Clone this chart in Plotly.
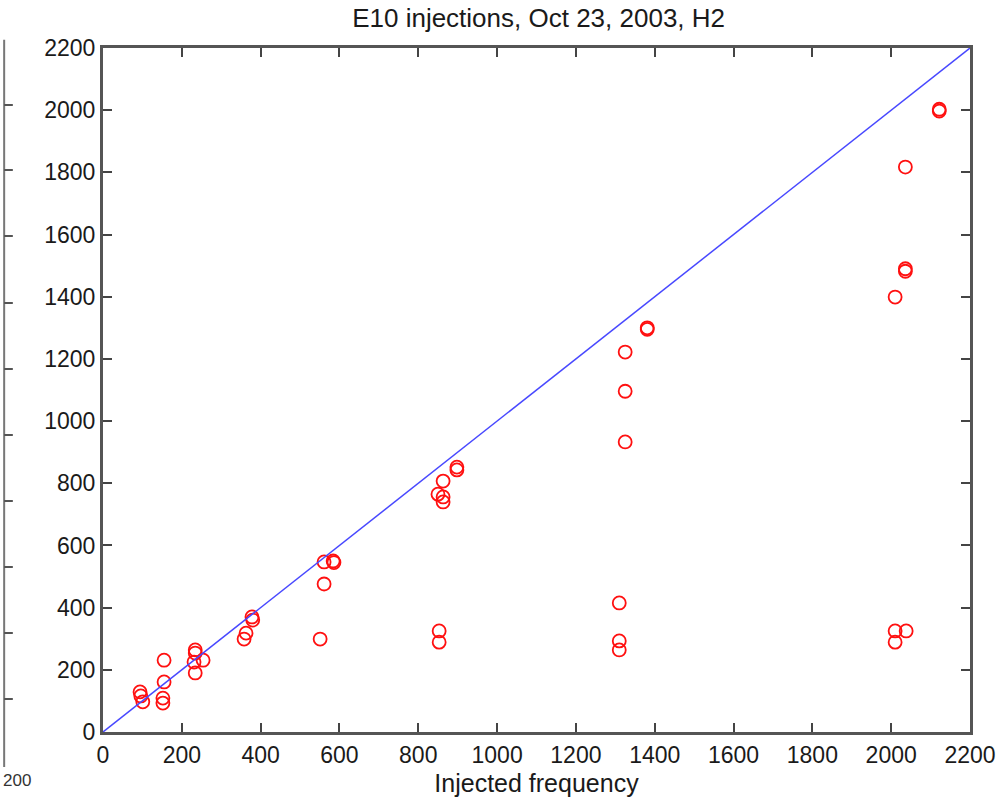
import plotly.graph_objects as go

# Data
inj_freq = [94, 96, 101,
            155, 155, 152, 152,
            234, 234, 254, 231, 234,
            378, 380, 363, 358,
            561, 584, 586, 561, 551,
            898, 898, 863, 850, 863, 863, 853, 853,
            1310, 1310, 1310,
            1325, 1325, 1325,
            1381, 1381,
            2010, 2036, 2036, 2036, 2122, 2122,
            2010, 2038, 2010]
meas_freq = [129, 116, 97,
             231, 161, 109, 93,
             264, 254, 231, 225, 190,
             370, 360, 318, 299,
             547, 550, 545, 476, 299,
             852, 843, 807, 765, 756, 740, 325, 289,
             415, 293, 264,
             1222, 1096, 933,
             1300, 1295,
             1399, 1490, 1482, 1817, 2003, 1997,
             325, 325, 289]
diag = [0, 2200]
tick_vals = list(range(0, 2201, 200))
title_text = "E10 injections, Oct 23, 2003, H2"
xlabel = "Injected frequency"

fig = go.Figure()
fig.add_trace(go.Scatter(x=inj_freq, y=meas_freq, mode="markers",
                         marker=dict(symbol="circle-open", size=13,
                                     color="#ff1010", line=dict(width=1.8, color="#ff1010")),
                         showlegend=False))
fig.add_trace(go.Scatter(x=diag, y=diag, mode="lines",
                         line=dict(color="#4848ff", width=1.5), showlegend=False))

axis_common = dict(range=[0, 2200], tickvals=tick_vals, ticks="inside", ticklen=9,
                   tickwidth=2, tickcolor="#444", showline=True, linewidth=3,
                   linecolor="#555", mirror="ticks", showgrid=False, zeroline=False,
                   automargin=False,
                   tickfont=dict(family="Liberation Sans, Arial", size=23, color="#1a1a1a"))

fig.update_xaxes(**axis_common, title=dict(text=xlabel, standoff=8,
                 font=dict(family="Liberation Sans, Arial", size=25, color="#1a1a1a")))
fig.update_yaxes(**axis_common)

# fragment of neighbouring axes at the left edge
shapes = [dict(type="line", xref="paper", yref="paper", x0=-0.114, x1=-0.114,
               y0=1.012, y1=-0.051, line=dict(color="#777", width=2))]
for py in [105, 170, 236, 303, 369, 435, 501, 567, 633, 699]:
    yp = (732 - py) / 684
    shapes.append(dict(type="line", xref="paper", yref="paper", x0=-0.114, x1=-0.104,
                       y0=yp, y1=yp, line=dict(color="#555", width=2)))

fig.update_layout(
    width=1003, height=799,
    margin=dict(l=103, r=33, t=48, b=67),
    paper_bgcolor="white", plot_bgcolor="white",
    title=dict(text=title_text, x=0.537, xanchor="center", y=0.977, yanchor="middle",
               font=dict(family="Liberation Sans, Arial", size=26, color="#1a1a1a")),
    shapes=shapes,
    annotations=[dict(text="200", xref="paper", yref="paper", x=-0.1178, y=-0.0716,
                      xanchor="left", yanchor="middle", showarrow=False,
                      font=dict(family="Liberation Sans, Arial", size=17, color="#333"))],
)

fig.write_html("out.html")
